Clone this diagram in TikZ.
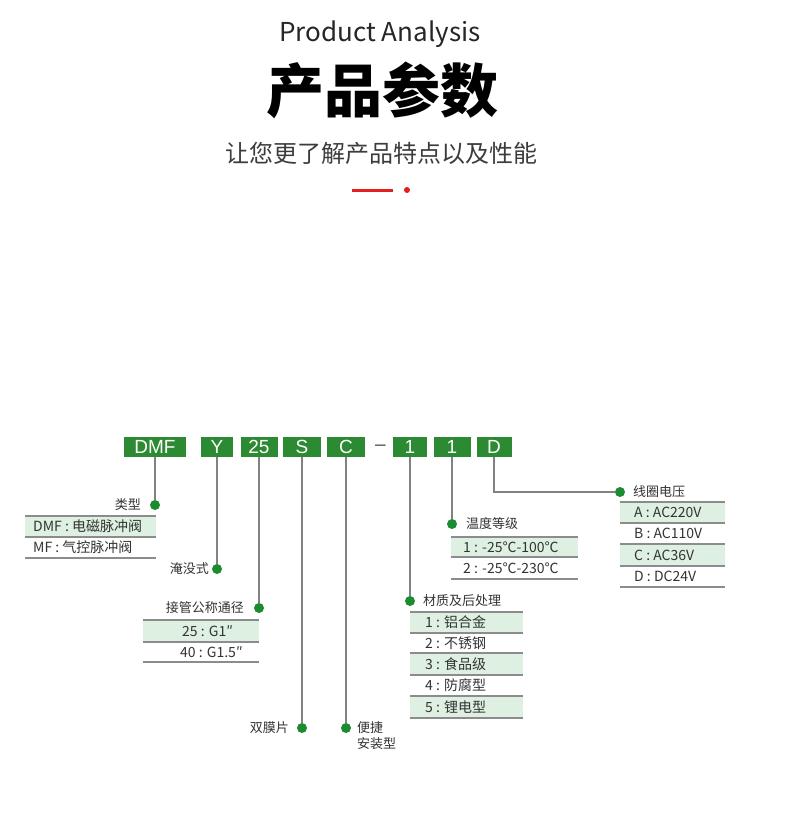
\documentclass[tikz,border=0pt]{standalone}
\usepackage{fontspec}
\setmainfont{Liberation Sans}
\newfontfamily\cjk{Noto Sans CJK SC}
\definecolor{boxgreen}{RGB}{44,138,50}
\definecolor{dotgreen}{RGB}{28,140,48}
\definecolor{rowmint}{RGB}{221,240,226}
\definecolor{tablegray}{RGB}{140,140,140}
\definecolor{conngray}{RGB}{130,130,130}
\definecolor{subgray}{RGB}{60,60,60}
\definecolor{accentred}{RGB}{230,30,30}
\begin{document}
\begin{tikzpicture}[x=1pt,y=-1pt,
  codebox/.style={fill=boxgreen,text=white,inner sep=0pt,minimum height=20pt,
    font=\fontsize{19}{19}\selectfont},
  dot/.style={circle,fill=dotgreen,inner sep=0pt,minimum size=10pt},
  conn/.style={draw=conngray,line width=1.3pt},
  lbl/.style={inner sep=0pt,font=\cjk\fontsize{13}{16}\selectfont,text=black!80},
  cell/.style={inner sep=0pt,anchor=west,font=\cjk\fontsize{14}{14}\selectfont,text=black!80},
  rule/.style={draw=tablegray,line width=1.3pt},
  shade/.style={fill=rowmint}
]
\useasboundingbox[fill=white] (0,0) rectangle (800,825);

% ---------- header ----------
\node[inner sep=0pt,font=\cjk\fontsize{26}{26}\selectfont,text=black!85] (title) at (380,34) {Product Analysis};
\node[inner sep=0pt,font=\cjk\bfseries\fontsize{58}{58}\selectfont] (head) at (382,90) {产品参数};
\node[inner sep=0pt,font=\cjk\fontsize{24}{24}\selectfont,text=subgray] (sub) at (381,153) {让您更了解产品特点以及性能};
\coordinate (redA) at (352,190);
\coordinate (redB) at (393,190);
\draw[accentred,line width=3pt] (redA) -- (redB);
\node[circle,fill=accentred,inner sep=0pt,minimum size=6pt] (reddot) at (407,190) {};

% ---------- code boxes ----------
\node[codebox,minimum width=62pt] (bDMF) at (155,447) {DMF};
\node[codebox,minimum width=32pt] (bY) at (217,447) {Y};
\node[codebox,minimum width=37pt] (b25) at (259,447) {25};
\node[codebox,minimum width=38pt] (bS) at (302,447) {S};
\node[codebox,minimum width=38pt] (bC) at (346,447) {C};
\node[inner sep=0pt,font=\fontsize{19}{19}\selectfont,text=black!70] (dash) at (380.5,448) {–};
\node[codebox,minimum width=34pt] (b1a) at (410,447) {1};
\node[codebox,minimum width=37pt] (b1b) at (452,447) {1};
\node[codebox,minimum width=35pt] (bD) at (494,447) {D};

% ---------- dots ----------
\node[dot] (pType) at (155,505) {};
\node[dot] (pSub) at (217,569) {};
\node[dot] (pSize) at (259,608) {};
\node[dot] (pDia) at (302,728) {};
\node[dot] (pInst) at (346,728) {};
\node[dot] (pMat) at (410,601) {};
\node[dot] (pTemp) at (452,524) {};
\node[dot] (pVolt) at (620,492) {};

% ---------- connectors ----------
\draw[conn] (bDMF.south) -- (pType);
\draw[conn] (bY.south) -- (pSub);
\draw[conn] (b25.south) -- (pSize);
\draw[conn] (bS.south) -- (pDia);
\draw[conn] (bC.south) -- (pInst);
\draw[conn] (b1a.south) -- (pMat);
\draw[conn] (b1b.south) -- (pTemp);
\draw[conn] (bD.south) |- (pVolt);

% ---------- labels ----------
\node[lbl,anchor=east] (lType) at (141,505) {类型};
\node[lbl,anchor=east] (lSub) at (209,569) {淹没式};
\node[lbl,anchor=east] (lSize) at (244,608) {接管公称通径};
\node[lbl,anchor=east] (lDia) at (289,728) {双膜片};
\node[lbl,anchor=west,align=left] (lInst) at (357,736) {便捷\\安装型};
\node[lbl,anchor=west] (lMat) at (423,601) {材质及后处理};
\node[lbl,anchor=west] (lTemp) at (466,524) {温度等级};
\node[lbl,anchor=west] (lVolt) at (633,492) {线圈电压};

% ---------- table: type ----------
\fill[shade] (25,516) rectangle (156,537);
\foreach \yy in {516,537,558} \draw[rule] (25,\yy) -- (156,\yy);
\node[cell] (t1a) at (33,526.5) {DMF : 电磁脉冲阀};
\node[cell] (t1b) at (33,547.5) {MF : 气控脉冲阀};

% ---------- table: size ----------
\fill[shade] (143,620) rectangle (259,642);
\foreach \yy in {620,642,662} \draw[rule] (143,\yy) -- (259,\yy);
\node[cell] (t2a) at (182,631) {25 : G1″};
\node[cell] (t2b) at (180,652) {40 : G1.5″};

% ---------- table: temperature ----------
\fill[shade] (451,537) rectangle (578,557);
\foreach \yy in {537,557,579} \draw[rule] (451,\yy) -- (578,\yy);
\node[cell] (t3a) at (463,547) {1 : -25℃-100℃};
\node[cell] (t3b) at (463,568) {2 : -25℃-230℃};

% ---------- table: material ----------
\fill[shade] (410,612) rectangle (523,633);
\fill[shade] (410,653) rectangle (523,675);
\fill[shade] (410,696) rectangle (523,718);
\foreach \yy in {612,633,653,675,696,718} \draw[rule] (410,\yy) -- (523,\yy);
\node[cell] (t4a) at (425,622.5) {1 : 铝合金};
\node[cell] (t4b) at (425,643) {2 : 不锈钢};
\node[cell] (t4c) at (425,664) {3 : 食品级};
\node[cell] (t4d) at (425,685.5) {4 : 防腐型};
\node[cell] (t4e) at (425,707) {5 : 锂电型};

% ---------- table: voltage ----------
\fill[shade] (620,502) rectangle (725,523);
\fill[shade] (620,544) rectangle (725,566);
\foreach \yy in {502,523,544,566,587} \draw[rule] (620,\yy) -- (725,\yy);
\node[cell] (t5a) at (634,512.5) {A : AC220V};
\node[cell] (t5b) at (634,533.5) {B : AC110V};
\node[cell] (t5c) at (634,555) {C : AC36V};
\node[cell] (t5d) at (634,576.5) {D : DC24V};
\end{tikzpicture}
\end{document}
